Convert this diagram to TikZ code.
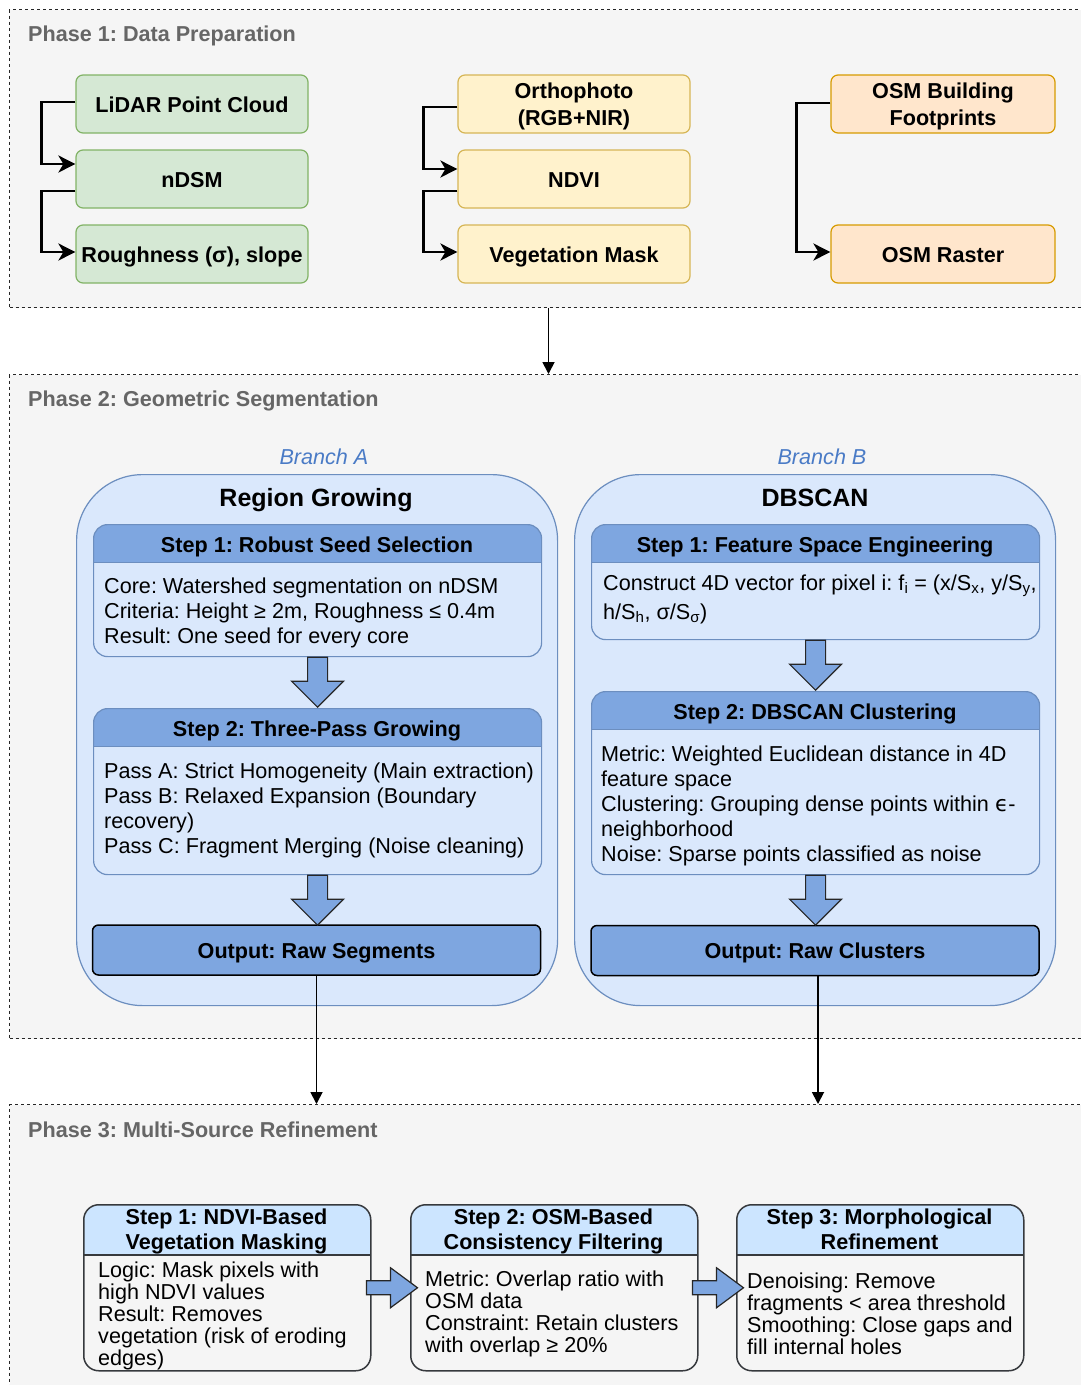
\documentclass[tikz,border=0pt]{standalone}
\usepackage{fontspec}
\setmainfont{Liberation Sans}
\newfontfamily\symbolfont{DejaVu Sans}
\usepackage{xcolor}
\usetikzlibrary{arrows.meta}

\definecolor{phasebg}{HTML}{F5F5F5}
\definecolor{titlegray}{HTML}{666666}
\definecolor{greenfill}{HTML}{D5E8D4}
\definecolor{greenline}{HTML}{82B366}
\definecolor{yellowfill}{HTML}{FFF2CC}
\definecolor{yellowline}{HTML}{D6B656}
\definecolor{orangefill}{HTML}{FFE6CC}
\definecolor{orangeline}{HTML}{D79B00}
\definecolor{bluefill}{HTML}{DAE8FC}
\definecolor{blueline}{HTML}{6C8EBF}
\definecolor{headblue}{HTML}{7EA6E0}
\definecolor{lightblue}{HTML}{CCE5FF}
\definecolor{darkline}{HTML}{36393D}
\definecolor{branchblue}{HTML}{4A7BC6}

\begin{document}
\frenchspacing
\begin{tikzpicture}[font=\fontsize{21.6}{25}\selectfont]
                \tikzset{x={(1pt,0pt)}, y={(0pt,-1pt)}}
                \tikzset{
                  oneline/.style={text height=17pt, text depth=1pt},
                  phase/.style={draw=black!85, dash pattern=on 3pt off 3pt, line width=1pt, fill=phasebg, anchor=north west, inner sep=0pt, minimum width=1078pt},
                  phasetitle/.style={oneline, anchor=west, inner sep=0pt, text=titlegray, font=\fontsize{21.6}{25}\selectfont\bfseries},
                  databox/.style={rounded corners=7pt, line width=1.2pt, minimum width=232pt, minimum height=58pt, align=center, inner sep=0pt, font=\fontsize{21.6}{27}\selectfont\bfseries},
                  link/.style={line width=2.5pt, -{Stealth[length=17pt, width=17pt, inset=5pt]}},
                  flow/.style={line width=1.8pt, -{Triangle[length=12pt, width=12pt]}},
                  branch/.style={draw=blueline, fill=bluefill, line width=1.2pt, rounded corners=66pt, anchor=north west, minimum width=481pt, minimum height=531pt, inner sep=0pt},
                  branchlabel/.style={oneline, text=branchblue, font=\fontsize{21.6}{25}\selectfont\itshape, inner sep=0pt},
                  method/.style={text height=19pt, text depth=1pt, font=\fontsize{25}{30}\selectfont\bfseries, inner sep=0pt},
                  lane/.style={draw=blueline, fill=bluefill, line width=1.2pt, rounded corners=14pt, anchor=north west, minimum width=448pt, inner sep=0pt,
                    path picture={\fill[headblue, sharp corners] (path picture bounding box.north west) rectangle ([yshift=-38pt]path picture bounding box.north east);
                      \draw[blueline, line width=1.2pt, sharp corners] ([yshift=-38pt]path picture bounding box.north west) -- ([yshift=-38pt]path picture bounding box.north east);}},
                  headtext/.style={font=\fontsize{21.6}{25}\selectfont\bfseries, inner sep=0pt, align=center},
                  bodytext/.style={anchor=west, align=left, inner sep=0pt},
                  outbox/.style={oneline, draw=black, fill=headblue, line width=1.5pt, rounded corners=6pt, minimum width=448pt, minimum height=50pt, inner sep=0pt, font=\fontsize{21.6}{25}\selectfont\bfseries},
                  blockarrow/.style={draw=black!85, fill=headblue, line width=1.2pt},
                  refine/.style={draw=darkline, fill=phasebg, line width=1.5pt, rounded corners=15pt, anchor=north west, minimum width=287pt, minimum height=166pt, inner sep=0pt,
                    path picture={\fill[lightblue, sharp corners] (path picture bounding box.north west) rectangle ([yshift=-50pt]path picture bounding box.north east);
                      \draw[darkline, line width=1.5pt, sharp corners] ([yshift=-50pt]path picture bounding box.north west) -- ([yshift=-50pt]path picture bounding box.north east);}},
                  refinetext/.style={anchor=west, align=left, inner sep=0pt, font=\fontsize{21.6}{22}\selectfont}
                }
                \useasboundingbox (0,0) rectangle (1081,1385);

                % Phase 1
                \node[phase, minimum height=298pt] (phaseone) at (9,9) {};
                \node[phasetitle] (titleone) at (28,33) {Phase 1: Data Preparation};
                \node[databox, oneline, draw=greenline, fill=greenfill] (lidar) at (192,104) {LiDAR Point Cloud};
                \node[databox, oneline, draw=greenline, fill=greenfill] (ndsm) at (192,179) {nDSM};
                \node[databox, oneline, draw=greenline, fill=greenfill] (rough) at (192,254) {Roughness (σ), slope};
                \node[databox, text depth=-2pt, draw=yellowline, fill=yellowfill] (ortho) at (574,104) {Orthophoto\\(RGB+NIR)};
                \node[databox, oneline, draw=yellowline, fill=yellowfill] (ndvi) at (574,179) {NDVI};
                \node[databox, oneline, draw=yellowline, fill=yellowfill] (vegmask) at (574,254) {Vegetation Mask};
                \node[databox, text depth=-2pt, draw=orangeline, fill=orangefill, minimum width=224pt] (osmfoot) at (943,104) {OSM Building\\Footprints};
                \node[databox, oneline, draw=orangeline, fill=orangefill, minimum width=224pt] (osmraster) at (943,254) {OSM Raster};
                \draw[link] ([yshift=2pt]lidar.west) -- ++(-34,0) |- ([yshift=15pt]ndsm.west);
                \draw[link] ([yshift=-12pt]ndsm.west) -- ++(-34,0) |- ([yshift=2pt]rough.west);
                \draw[link] ([yshift=-3pt]ortho.west) -- ++(-34,0) |- ([yshift=10pt]ndvi.west);
                \draw[link] ([yshift=-12pt]ndvi.west) -- ++(-34,0) |- ([yshift=2pt]vegmask.west);
                \draw[link] ([yshift=1pt]osmfoot.west) -- ++(-34,0) |- ([yshift=2pt]osmraster.west);

                % Phase 2
                \node[phase, minimum height=664pt] (phasetwo) at (9,374) {};
                \node[phasetitle] (titletwo) at (28,398) {Phase 2: Geometric Segmentation};
                \draw[flow] (phaseone.south) -- (phasetwo.north);
                \node[branchlabel] (brancha) at (324,456) {Branch A};
                \node[branchlabel] (branchb) at (822,456) {Branch B};
                \node[branch] (growing) at (76,474) {};
                \node[branch] (dbscan) at (574,474) {};
                \node[method] (growingtitle) at (316,497) {Region Growing};
                \node[method] (dbscantitle) at (815,497) {DBSCAN};

                \node[lane, minimum height=132pt] (seedbox) at (93,524) {};
                \node[headtext, oneline] (seedhead) at (317,544) {Step 1: Robust Seed Selection};
                \node[bodytext] (seedtext) at (104,612.5) {Core: Watershed segmentation on nDSM\\Criteria: Height ≥ 2m, Roughness ≤ 0.4m\\Result: One seed for every core};
                \node[lane, minimum height=166pt] (growbox) at (93,708) {};
                \node[headtext, oneline] (growhead) at (317,728) {Step 2: Three-Pass Growing};
                \node[bodytext] (growtext) at (104,810) {Pass A: Strict Homogeneity (Main extraction)\\Pass B: Relaxed Expansion (Boundary\\recovery)\\Pass C: Fragment Merging (Noise cleaning)};
                \node[outbox] (segout) at (316.5,950) {Output: Raw Segments};
                \draw[blockarrow] ([xshift=-10pt]seedbox.south) -- ++(20,0) -- ++(0,24) -- ++(16,0) -- ++(-26,26) -- ++(-26,-26) -- ++(16,0) -- cycle;
                \draw[blockarrow] ([xshift=-10pt]growbox.south) -- ++(20,0) -- ++(0,24) -- ++(16,0) -- ++(-26,26) -- ++(-26,-26) -- ++(16,0) -- cycle;

                \node[lane, minimum height=115pt] (featbox) at (591,524) {};
                \node[headtext, oneline] (feathead) at (815,544) {Step 1: Feature Space Engineering};
                \node[bodytext] (feattext) at (603,599) {Construct 4D vector for pixel i: f\textsubscript{i} = (x/S\textsubscript{x}, y/S\textsubscript{y},\\[4pt]h/S\textsubscript{h}, σ/S\textsubscript{σ})};
                \node[lane, minimum height=183pt] (clusbox) at (591,691) {};
                \node[headtext, oneline] (clushead) at (815,711) {Step 2: DBSCAN Clustering};
                \node[bodytext] (clustext) at (601,805.5) {Metric: Weighted Euclidean distance in 4D\\feature space\\Clustering: Grouping dense points within {\symbolfont ϵ}-\\neighborhood\\Noise: Sparse points classified as noise};
                \node[outbox] (clusout) at (815,950.5) {Output: Raw Clusters};
                \draw[blockarrow] ([xshift=-10pt]featbox.south) -- ++(20,0) -- ++(0,24) -- ++(16,0) -- ++(-26,26) -- ++(-26,-26) -- ++(16,0) -- cycle;
                \draw[blockarrow] ([xshift=-10pt]clusbox.south) -- ++(20,0) -- ++(0,24) -- ++(16,0) -- ++(-26,26) -- ++(-26,-26) -- ++(16,0) -- cycle;

                % Phase 3
                \node[phase, minimum height=300pt] (phasethree) at (9,1104) {};
                \node[phasetitle] (titlethree) at (28,1129) {Phase 3: Multi-Source Refinement};
                \draw[flow] (segout.south) -- (segout.south |- phasethree.north);
                \draw[flow] ([xshift=3pt]clusout.south) -- ([xshift=3pt]clusout.south |- phasethree.north);

                \node[refine] (ndvistep) at (83,1204) {};
                \node[headtext] (ndvihead) at (226.5,1231) {Step 1: NDVI-Based\\Vegetation Masking};
                \node[refinetext] (nditext) at (98,1315.5) {Logic: Mask pixels with\\high NDVI values\\Result: Removes\\vegetation (risk of eroding\\edges)};
                \node[refine] (osmstep) at (410,1204) {};
                \node[headtext] (osmhead) at (553.5,1231) {Step 2: OSM-Based\\Consistency Filtering};
                \node[refinetext] (osmtext) at (425,1313.5) {Metric: Overlap ratio with\\OSM data\\Constraint: Retain clusters\\with overlap ≥ 20\%};
                \node[refine] (morphstep) at (736,1204) {};
                \node[headtext] (morphhead) at (879.5,1229) {Step 3: Morphological\\Refinement};
                \node[refinetext] (morphtext) at (747,1313.5) {Denoising: Remove\\fragments < area threshold\\Smoothing: Close gaps and\\fill internal holes};
                \draw[blockarrow] ([xshift=-5pt, yshift=7pt]ndvistep.east) -- ++(24,0) -- ++(0,-13) -- ++(27,20) -- ++(-27,20) -- ++(0,-13) -- ++(-24,0) -- cycle;
                \draw[blockarrow] ([xshift=-6pt, yshift=7pt]osmstep.east) -- ++(24,0) -- ++(0,-13) -- ++(27,20) -- ++(-27,20) -- ++(0,-13) -- ++(-24,0) -- cycle;
            \end{tikzpicture}
\end{document}
